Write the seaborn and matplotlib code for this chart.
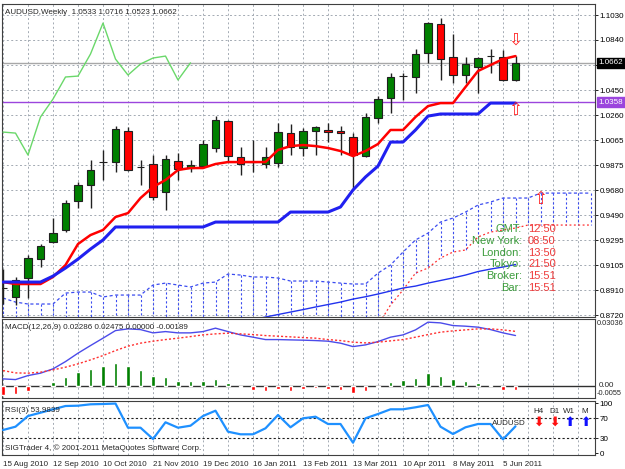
import numpy as np
import matplotlib
matplotlib.use('Agg')
import matplotlib.pyplot as plt
import matplotlib.transforms as mtransforms
import seaborn as sns

# weekly AUDUSD bars (oldest first)
opens = [0.8928, 0.8859, 0.9005, 0.9151, 0.9282, 0.9375, 0.9598, 0.9721, 0.9898, 0.9898,
         1.0137, 0.9860, 0.9883, 0.9667, 0.9906, 0.9852, 0.9867, 1.0006, 1.0214, 0.9937,
         0.9898, 0.9883, 0.9890, 1.0121, 1.0006, 1.0137, 1.0145, 1.0137, 1.0091, 0.9944,
         1.0237, 1.0391, 1.0560, 1.0553, 1.0737, 1.0961, 1.0707, 1.0568, 1.0630, 1.0714,
         1.0707, 1.0533]
highs = [0.9075, 0.9013, 0.9182, 0.9267, 0.9467, 0.9605, 0.9744, 0.9914, 0.9990, 1.0175,
         1.0168, 0.9914, 0.9952, 0.9952, 0.9967, 0.9914, 1.0067, 1.0252, 1.0222, 1.0014,
         1.0067, 1.0014, 1.0198, 1.0190, 1.0160, 1.0175, 1.0198, 1.0175, 1.0121, 1.0275,
         1.0406, 1.0583, 1.0583, 1.0768, 1.0976, 1.1007, 1.0884, 1.0707, 1.0707, 1.0768,
         1.0760, 1.0716]
lows = [0.8805, 0.8797, 0.8851, 0.9090, 0.9275, 0.9359, 0.9544, 0.9544, 0.9760, 0.9821,
        0.9829, 0.9721, 0.9605, 0.9529, 0.9760, 0.9821, 0.9852, 0.9975, 0.9898, 0.9798,
        0.9821, 0.9852, 0.9860, 0.9952, 0.9944, 0.9952, 1.0052, 0.9952, 0.9698, 0.9937,
        1.0198, 1.0275, 1.0376, 1.0429, 1.0661, 1.0530, 1.0507, 1.0507, 1.0429, 1.0583,
        1.0522, 1.0523]
closes = [0.8928, 0.8989, 0.9159, 0.9251, 0.9352, 0.9582, 0.9721, 0.9836, 0.9898, 1.0152,
          0.9836, 0.9860, 0.9629, 0.9921, 0.9844, 0.9875, 1.0036, 1.0222, 0.9944, 0.9883,
          0.9898, 0.9937, 1.0129, 1.0014, 1.0137, 1.0168, 1.0129, 1.0121, 0.9952, 1.0245,
          1.0383, 1.0553, 1.0560, 1.0730, 1.0968, 1.0691, 1.0568, 1.0653, 1.0699, 1.0714,
          1.0530, 1.0662]

# ichimoku lines
tenkan = [0.8974, 0.8959, 0.8959, 0.8959, 0.9013, 0.9105, 0.9267, 0.9336, 0.9375, 0.9475,
          0.9505, 0.9621, 0.9706, 0.9760, 0.9837, 0.9852, 0.9852, 0.9883, 0.9898, 0.9898,
          0.9898, 0.9898, 0.9991, 1.0021, 1.0029, 1.0021, 1.0006, 0.9983, 0.9944, 0.9983,
          1.0037, 1.0145, 1.0145, 1.0245, 1.0329, 1.0352, 1.0352, 1.0476, 1.0599, 1.0645,
          1.0691, 1.0714]
kijun = [0.8974, 0.8974, 0.8974, 0.8974, 0.9020, 0.9082, 0.9151, 0.9228, 0.9298, 0.9398,
         0.9398, 0.9398, 0.9398, 0.9398, 0.9398, 0.9398, 0.9398, 0.9436, 0.9436, 0.9436,
         0.9436, 0.9436, 0.9436, 0.9513, 0.9513, 0.9513, 0.9513, 0.9552, 0.9683, 0.9783,
         0.9867, 1.0052, 1.0052, 1.0145, 1.0252, 1.0268, 1.0268, 1.0268, 1.0268, 1.0352,
         1.0352, 1.0352]
span_a = [0.8851, 0.8820, 0.8805, 0.8805, 0.8805, 0.8889, 0.8897, 0.8897, 0.8859, 0.8874,
          0.8874, 0.8874, 0.8951, 0.8966, 0.8951, 0.8936, 0.8966, 0.8974, 0.9036, 0.9028,
          0.9013, 0.9013, 0.9005, 0.8982, 0.8982, 0.8982, 0.8974, 0.8966, 0.8959, 0.8959,
          0.9043, 0.9105, 0.9205, 0.9298, 0.9351, 0.9436, 0.9467, 0.9513, 0.9567, 0.9590,
          0.9621, 0.9621, 0.9621, 0.9659, 0.9659, 0.9659, 0.9659, 0.9659]
span_b = [0.8450, 0.8450, 0.8450, 0.8450, 0.8450, 0.8450, 0.8450, 0.8450, 0.8450, 0.8450,
          0.8450, 0.8450, 0.8450, 0.8450, 0.8450, 0.8450, 0.8450, 0.8450, 0.8450, 0.8450,
          0.8450, 0.8450, 0.8450, 0.8450, 0.8450, 0.8450, 0.8450, 0.8450, 0.8450, 0.8530,
          0.8643, 0.8797, 0.8913, 0.9043, 0.9082, 0.9159, 0.9205, 0.9221, 0.9321, 0.9359,
          0.9375, 0.9390, 0.9413, 0.9413, 0.9413, 0.9413, 0.9413, 0.9413]
# slow moving average, visible from bar 19
ma_start = 19
ma_line = [0.8666, 0.8685, 0.8705, 0.8724, 0.8743, 0.8762, 0.8782, 0.8801, 0.8820, 0.8843,
           0.8861, 0.8882, 0.8905, 0.8928, 0.8943, 0.8966, 0.8986, 0.9006, 0.9028, 0.9055,
           0.9074, 0.9090, 0.9109]
signal_bars = [41, 41, 43]
signal_prices = [1.0838, 1.0298, 0.9613]
signal_marks = ['\u21e9', '\u21e7', '\u21e7']

macd_main = [0.00318, 0.00286, 0.00468, 0.00577, 0.00772, 0.01103, 0.01485, 0.01830, 0.02166, 0.02511,
             0.02588, 0.02556, 0.02406, 0.02465, 0.02406, 0.02406, 0.02465, 0.02620, 0.02465, 0.02315,
             0.02211, 0.02102, 0.02102, 0.02088, 0.02075, 0.02057, 0.02029, 0.01939, 0.01784, 0.01861,
             0.02011, 0.02211, 0.02315, 0.02542, 0.02892, 0.02860, 0.02738, 0.02710, 0.02665, 0.02556,
             0.02406, 0.02286]
macd_signal = [0.00695, 0.00590, 0.00577, 0.00622, 0.00726, 0.00849, 0.00999, 0.01180, 0.01376, 0.01603,
               0.01802, 0.01939, 0.02029, 0.02102, 0.02166, 0.02238, 0.02315, 0.02361, 0.02393, 0.02361,
               0.02329, 0.02284, 0.02256, 0.02225, 0.02193, 0.02166, 0.02102, 0.02057, 0.01984, 0.01952,
               0.01984, 0.02043, 0.02102, 0.02211, 0.02329, 0.02438, 0.02497, 0.02542, 0.02588, 0.02588,
               0.02542, 0.02475]
macd_hist = [-0.0041, -0.0036, -0.0021, -0.0002, 0.0017, 0.0039, 0.0062, 0.0077, 0.0088, 0.0104,
             0.0088, 0.0073, 0.0044, 0.0039, 0.0024, 0.0020, 0.0024, 0.0029, 0.0014, -0.0005,
             -0.0017, -0.0024, -0.0014, -0.0021, -0.0014, -0.0010, -0.0014, -0.0017, -0.0032, -0.0021,
             -0.0006, 0.0017, 0.0027, 0.0036, 0.0059, 0.0047, 0.0029, 0.0020, 0.0012, 0.0006,
             -0.0017, -0.00189]
rsi = [46.6, 53.2, 74.6, 81.2, 88.0, 94.6, 95.2, 98.0, 98.6, 99.5,
       51.2, 51.2, 28.6, 62.0, 51.2, 55.2, 74.6, 85.2, 43.2, 38.0,
       38.0, 50.0, 76.6, 52.0, 70.0, 73.2, 58.6, 58.6, 21.2, 70.0,
       78.6, 88.0, 88.0, 92.0, 96.6, 53.2, 38.6, 52.0, 58.6, 58.6,
       28.0, 53.98]

date_pos = [0, 4, 8, 12, 16, 20, 24, 28, 32, 36, 40]
date_labels = ['15 Aug 2010', '12 Sep 2010', '10 Oct 2010', '21 Nov 2010', '19 Dec 2010',
               '16 Jan 2011', '13 Feb 2011', '13 Mar 2011', '10 Apr 2011', '8 May 2011', '5 Jun 2011']
price_grid = [1.1030, 1.0840, 1.0645, 1.0450, 1.0260, 1.0065, 0.9875, 0.9680, 0.9490,
              0.9295, 0.9105, 0.8910, 0.8720]
price_labels = ['1.1030', '1.0840', '', '1.0450', '1.0260', '1.0065', '0.9875', '0.9680',
                '0.9490', '0.9295', '0.9105', '0.8910', '0.8720']
clock_names = ['GMT:', 'New York:', 'London:', 'Tokyo:', 'Broker:', 'Bar:']
clock_times = ['12:50', '08:50', '13:50', '21:50', '15:51', '15:51']
tf_names = ['H4', 'D1', 'W1', 'M']
tf_up = [False, False, True, True]

###############################################################################
sns.set_theme(style='white')
plt.rcParams['font.family'] = ['Liberation Sans', 'DejaVu Sans']
fs = 5.8

W, H = 625, 469
fig = plt.figure(figsize=(W / 100, H / 100), dpi=100)

def rect(x0, y0, x1, y1):
    return [x0 / W, 1 - y1 / H, (x1 - x0) / W, (y1 - y0) / H]

def px(x, y):
    return x / W, 1 - y / H

ax = fig.add_axes(rect(2, 4, 595, 317))
axm = fig.add_axes(rect(2, 319, 595, 398))
axr = fig.add_axes(rect(2, 401, 595, 455))

bars = np.arange(len(closes))
ext = np.arange(len(span_a))
o, h, l, c = map(np.array, (opens, highs, lows, closes))
grid_kw = dict(color='#a3aab3', linestyle=(0, (2, 2.5)), linewidth=0.7)

# --- main price window
ax.vlines(ext, span_a, span_b, color='#3b4cf0', lw=0.8, linestyles=(0, (2, 2)), zorder=2)
sns.lineplot(x=ext, y=span_a, ax=ax, color='#3b4cf0', lw=0.9, linestyle=(0, (2.5, 2)), zorder=2)
sns.lineplot(x=ext, y=span_b, ax=ax, color='#ff3030', lw=0.9, linestyle=(0, (1.5, 2)), zorder=2)
sns.lineplot(x=np.arange(ma_start, ma_start + len(ma_line)), y=ma_line, ax=ax,
             color='#2233ee', lw=1.0, zorder=2)

ax.axhline(1.0662, color='#a8a8a8', lw=1.0, zorder=2)
ax.axhline(1.0358, color='#9b45dd', lw=1.0, zorder=2)

up = c >= o
ax.vlines(bars, l, h, color='#202020', lw=1.0, zorder=3)
ax.bar(bars, np.abs(c - o), bottom=np.minimum(o, c), width=0.6,
       color=np.where(up, '#008000', '#ff0000'), edgecolor='#202020', lw=0.8, zorder=4)

sns.lineplot(x=bars[:len(closes) - 26], y=closes[26:], ax=ax, color='#6ad86a', lw=1.0, zorder=5)
sns.lineplot(x=bars, y=tenkan, ax=ax, color='#ff0000', lw=1.8, zorder=5)
sns.lineplot(x=bars, y=kijun, ax=ax, color='#2020f0', lw=2.2, zorder=5)

for b, p, m in zip(signal_bars, signal_prices, signal_marks):
    ax.text(b, p, m, color='#ff2020', fontsize=12, ha='center', va='center', zorder=6)

ax.set_ylim(0.8705, 1.1115)
ax.set_yticks(price_grid)
ax.set_yticklabels(price_labels)
ax.grid(True, axis='y', **grid_kw)

bt = mtransforms.blended_transform_factory(ax.transAxes, ax.transData)
ax.text(1.006, 1.0662, '1.0662', transform=bt, color='white', fontsize=fs, va='center', ha='left',
        bbox=dict(boxstyle='square,pad=0.2', fc='black', ec='black'))
ax.text(1.006, 1.0358, '1.0358', transform=bt, color='white', fontsize=fs, va='center', ha='left',
        bbox=dict(boxstyle='square,pad=0.2', fc='#9b45dd', ec='#9b45dd'))
fig.text(*px(5, 12), 'AUDUSD,Weekly  1.0533 1.0716 1.0523 1.0662', fontsize=fs, va='center')

for i, (n, t) in enumerate(zip(clock_names, clock_times)):
    y = 229 + i * 11.8
    fig.text(*px(522, y), n, color='#3c9c3c', fontsize=8, ha='right', va='center', zorder=10)
    fig.text(*px(528, y), t, color='#ee3b3b', fontsize=8, ha='left', va='center', zorder=10)

# --- MACD window
axm.axhline(0, color='#303030', lw=1.0, zorder=2)
axm.bar(bars, macd_hist, width=0.26, color=['#008000' if v > 0 else '#ff0000' for v in macd_hist],
        zorder=3)
sns.lineplot(x=bars, y=macd_main, ax=axm, color='#4b4bea', lw=1.0, zorder=4)
sns.lineplot(x=bars, y=macd_signal, ax=axm, color='#ff3030', lw=1.0, linestyle=(0, (1.5, 1.5)), zorder=4)
axm.set_ylim(-0.0055, 0.03036)
axm.set_yticks([])
mt = mtransforms.blended_transform_factory(axm.transAxes, axm.transData)
axm.text(1.003, 0.0298, '0.03036', transform=mt, fontsize=5.3, va='top', ha='left')
axm.text(1.006, 0.0, '0.00', transform=mt, fontsize=fs, va='center', ha='left')
axm.text(1.003, -0.0052, '-0.0055', transform=mt, fontsize=5.3, va='bottom', ha='left')
fig.text(*px(5, 327), 'MACD(12,26,9) 0.02286 0.02475 0.00000 -0.00189', fontsize=fs, va='center')

# --- RSI window
axr.axhline(70, color='#202020', lw=0.8, linestyle=(0, (2, 2)), zorder=2)
axr.axhline(30, color='#202020', lw=0.8, linestyle=(0, (2, 2)), zorder=2)
sns.lineplot(x=bars, y=rsi, ax=axr, color='#1e90ff', lw=1.6, zorder=4)
axr.set_ylim(-3.4, 104.6)
axr.set_yticks([100, 70, 30, 0])
fig.text(*px(5, 410), 'RSI(3) 53.9839', fontsize=fs, va='center')
fig.text(*px(5, 448), 'SIGTrader 4, \u00a9 2001-2011 MetaQuotes Software Corp.', fontsize=fs, va='center')
fig.text(*px(526, 423), 'AUDUSD', fontsize=fs, va='center', ha='right')
for xp, n, u in zip([538, 554, 569, 585], tf_names, tf_up):
    fig.text(*px(xp, 411), n, fontsize=fs, ha='center', va='center')
    fig.text(*px(xp, 423), '\u2b06' if u else '\u2b07', fontsize=9, ha='center', va='center',
             color='#1010ff' if u else '#ff1010', fontweight='bold')

for a in (ax, axm, axr):
    a.set_xlim(-0.08, 47.36)
    a.set_xticks(np.arange(0, 48, 2), minor=True)
    a.set_xticks(date_pos)
    a.grid(True, which='both', axis='x', **grid_kw)
    a.set_axisbelow(True)
    a.set_xlabel('')
    a.set_ylabel('')
    for s in a.spines.values():
        s.set_color('#404040')
        s.set_linewidth(0.8)
    a.yaxis.tick_right()
    a.tick_params(axis='y', labelsize=fs, length=2, pad=1.5, width=0.6, colors='black', direction='out')
    a.tick_params(axis='x', which='minor', length=0)
    a.tick_params(axis='x', which='major', length=0, labelbottom=False)

axr.set_xticklabels(date_labels, ha='left')
axr.tick_params(axis='x', which='major', length=3, width=0.6, pad=1.5, labelsize=fs,
                labelbottom=True, direction='out')

fig.savefig('out.png', dpi=100)
